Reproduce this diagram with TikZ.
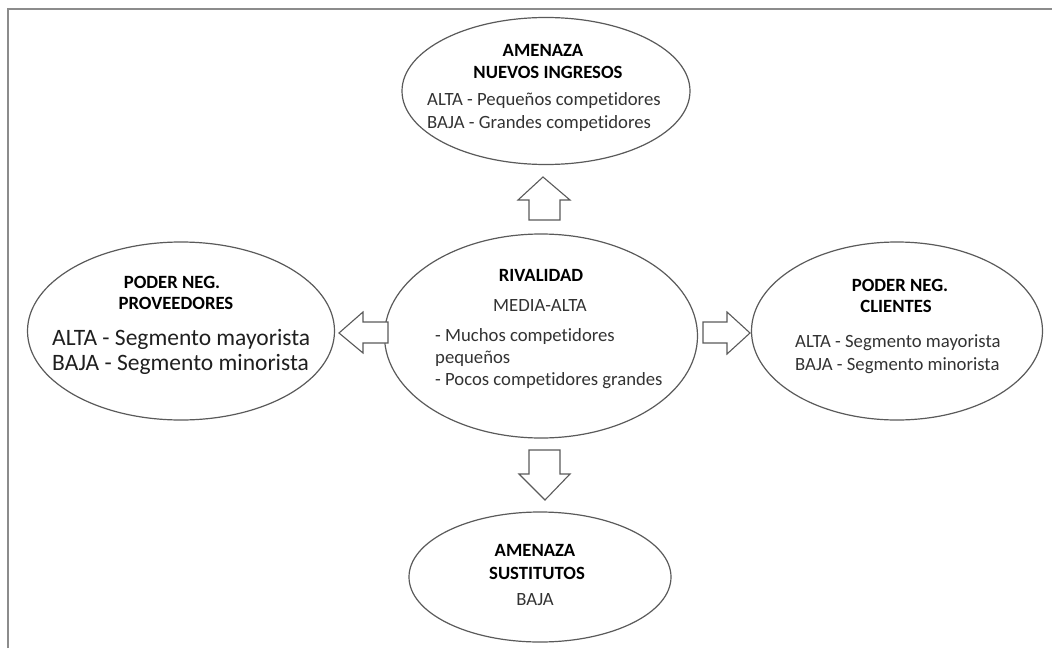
\documentclass[tikz,border=0pt]{standalone}
\usepackage{fontspec}
\setmainfont{Carlito}[Ligatures=NoCommon]
\usetikzlibrary{shapes.geometric}
\definecolor{framegray}{HTML}{8C8C8C}
\definecolor{edgegray}{HTML}{5A5A5A}
\definecolor{bodytext}{HTML}{333333}
\tikzset{
  force/.style={ellipse, draw=edgegray, line width=1.2pt, fill=white, inner sep=0pt},
  head/.style={font=\fontsize{18.7}{22}\selectfont\bfseries, text=black, inner sep=0pt, anchor=base},
  body/.style={font=\fontsize{18.7}{22}\selectfont, text=bodytext, inner sep=0pt, anchor=base west},
  bigbody/.style={font=\fontsize{23.5}{27}\selectfont, text=black!88, inner sep=0pt, anchor=base west},
  blockarrow/.style={draw=edgegray, line width=1.1pt, fill=white, line join=miter}
}
\begin{document}
\begin{tikzpicture}[x=1pt, y=-1pt]
\useasboundingbox (0,0) rectangle (1052,648);
% outer frame (top and left edges only)
\draw[framegray, line width=2pt] (8,648) -- (8,9) -- (1052,9);

% the five forces
\node[force, minimum width=288pt, minimum height=147pt] (entry) at (546,91) {};
\node[force, minimum width=313pt, minimum height=204pt] (rival) at (541,336) {};
\node[force, minimum width=307pt, minimum height=178pt] (supp) at (181,331) {};
\node[force, minimum width=291pt, minimum height=178pt] (cli) at (897,331) {};
\node[force, minimum width=262pt, minimum height=130pt] (subs) at (540,577) {};

% block arrows from the central ellipse outwards
\coordinate (upTail) at (544.5,220);
\draw[blockarrow] (upTail) ++(-15.5,0) -- ++(0,-20) -- ++(-11,0) -- (543,177) -- (570,200) -- ++(-10,0) -- ++(0,20) -- cycle;
\coordinate (downTail) at (544.5,450);
\draw[blockarrow] (downTail) ++(-15.5,0) -- ++(0,24) -- ++(-10,0) -- (545,500) -- (570,474) -- ++(-10,0) -- ++(0,-24) -- cycle;
\coordinate (rightTail) at (703,332.5);
\draw[blockarrow] (rightTail) ++(0,-10.5) -- ++(24,0) -- ++(0,-10) -- (750,333) -- (727,354) -- ++(0,-11) -- ++(-24,0) -- cycle;
\coordinate (leftTail) at (388,332.5);
\draw[blockarrow] (leftTail) ++(0,-10.5) -- ++(-25,0) -- ++(0,-10) -- (339,333) -- (363,353) -- ++(0,-10) -- ++(25,0) -- cycle;

% threat of new entrants
\node[head] (entryA) at (543,56) {AMENAZA};
\node[head] (entryB) at (548,78) {NUEVOS INGRESOS};
\node[body] (entryC) at (427,105) {ALTA - Pequeños competidores};
\node[body] (entryD) at (427,128) {BAJA - Grandes competidores};

% rivalry
\node[head] (rivalA) at (541,281) {RIVALIDAD};
\node[head, font=\fontsize{18.7}{22}\selectfont, text=bodytext] (rivalB) at (540,311) {MEDIA-ALTA};
\node[body] (rivalC) at (435,341) {- Muchos competidores};
\node[body] (rivalD) at (435,363) {pequeños};
\node[body] (rivalE) at (435,385) {- Pocos competidores grandes};

% supplier power
\node[head] (suppA) at (172,288) {PODER NEG.};
\node[head] (suppB) at (176,309) {PROVEEDORES};
\node[bigbody] (suppC) at (52,345) {ALTA - Segmento mayorista};
\node[bigbody] (suppD) at (52,370) {BAJA - Segmento minorista};

% buyer power
\node[head] (cliA) at (900,291) {PODER NEG.};
\node[head] (cliB) at (896,312) {CLIENTES};
\node[body] (cliC) at (795,347) {ALTA - Segmento mayorista};
\node[body] (cliD) at (795,370) {BAJA - Segmento minorista};

% threat of substitutes
\node[head] (subsA) at (535,556) {AMENAZA};
\node[head] (subsB) at (537,579) {SUSTITUTOS};
\node[head, font=\fontsize{18.7}{22}\selectfont, text=bodytext] (subsC) at (535,605) {BAJA};
\end{tikzpicture}
\end{document}
